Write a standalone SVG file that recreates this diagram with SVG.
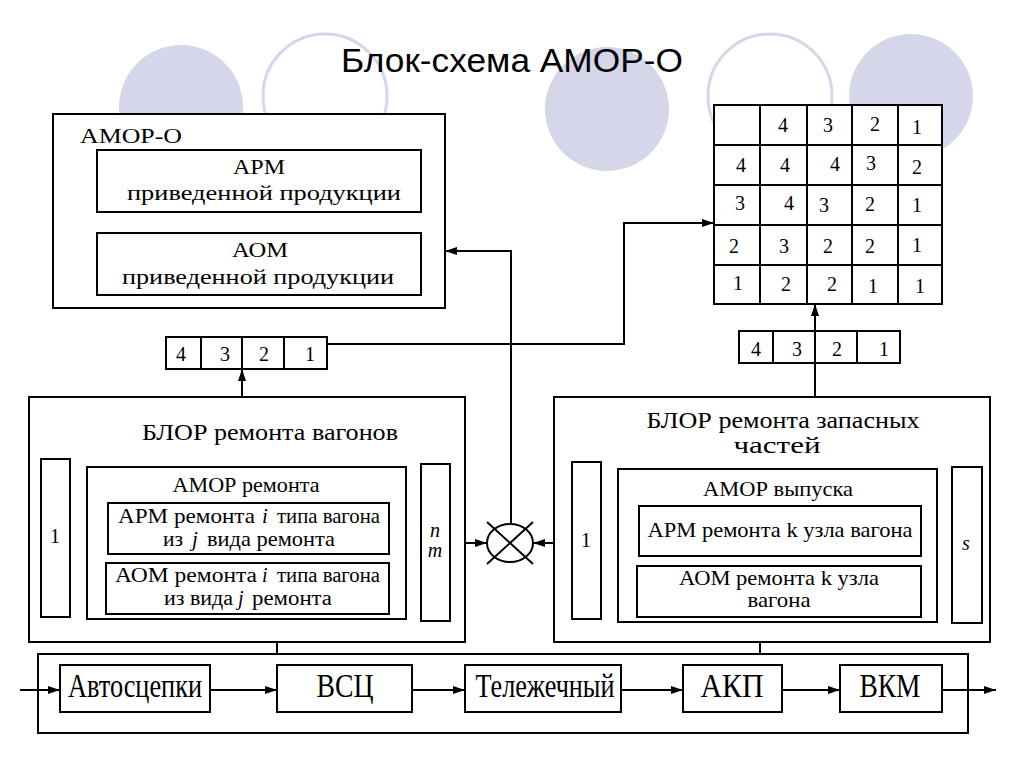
<svg xmlns="http://www.w3.org/2000/svg" width="1024" height="768" viewBox="0 0 1024 768">
<defs>
<marker id="arr" markerWidth="12" markerHeight="8" refX="12" refY="4" orient="auto" markerUnits="userSpaceOnUse">
<path d="M0,0 L12,4 L0,8 z" fill="#000"/>
</marker>
<style>
.box{fill:#fff;stroke:#000;stroke-width:2}
.ln{fill:none;stroke:#000;stroke-width:2}
.arw{fill:none;stroke:#000;stroke-width:2;marker-end:url(#arr)}
.t{fill:#000}
.c{text-anchor:middle}
.dg{font-size:20px;text-anchor:middle;fill:#000}
.fc{fill:#d6d6ea}
.oc{fill:none;stroke:#d6d6ea;stroke-width:3}
.it{font-style:italic}
</style>
</defs>
<rect width="1024" height="768" fill="#fff"/>
<g id="background">
<circle class="fc" cx="181" cy="107" r="62"/>
<circle class="oc" cx="325" cy="96" r="62"/>
<circle class="fc" cx="607" cy="109" r="62"/>
<circle class="oc" cx="770" cy="96" r="62"/>
<circle class="fc" cx="911" cy="96" r="62"/>
</g>
<text id="title" x="512" y="72" font-family="Liberation Sans, Arial, sans-serif" font-size="34" text-anchor="middle" textLength="342" lengthAdjust="spacingAndGlyphs">Блок-схема АМОР-О</text>

<g font-family="Liberation Serif, Times New Roman, serif">
<g id="amor-o">
<rect class="box" x="53" y="114" width="392" height="194"/>
<text class="t" x="80" y="143" font-size="22" textLength="102" lengthAdjust="spacingAndGlyphs">АМОР-О</text>
<rect class="box" x="97" y="150" width="324" height="62"/>
<text class="t c" x="259" y="174" font-size="22" textLength="52" lengthAdjust="spacingAndGlyphs">АРМ</text>
<text class="t c" x="264" y="200" font-size="22" textLength="274" lengthAdjust="spacingAndGlyphs">приведенной продукции</text>
<rect class="box" x="97" y="233" width="324" height="62"/>
<text class="t c" x="260" y="257" font-size="22" textLength="56" lengthAdjust="spacingAndGlyphs">АОМ</text>
<text class="t c" x="258" y="284" font-size="22" textLength="272" lengthAdjust="spacingAndGlyphs">приведенной продукции</text>
</g>

<g id="matrix">
<rect class="box" x="714" y="105" width="228" height="199"/>
<path class="ln" d="M760,105V304M807,105V304M852,105V304M898,105V304M714,145H942M714,185H942M714,225H942M714,265H942"/>
<text class="dg" x="783" y="132">4</text><text class="dg" x="828" y="132">3</text><text class="dg" x="875" y="131">2</text><text class="dg" x="917" y="134">1</text>
<text class="dg" x="741" y="172">4</text><text class="dg" x="785" y="172">4</text><text class="dg" x="835" y="171">4</text><text class="dg" x="871" y="170">3</text><text class="dg" x="917" y="174">2</text>
<text class="dg" x="740" y="210">3</text><text class="dg" x="789" y="210">4</text><text class="dg" x="824" y="212">3</text><text class="dg" x="870" y="211">2</text><text class="dg" x="917" y="212">1</text>
<text class="dg" x="734" y="253">2</text><text class="dg" x="784" y="253">3</text><text class="dg" x="828" y="253">2</text><text class="dg" x="870" y="253">2</text><text class="dg" x="917" y="252">1</text>
<text class="dg" x="738" y="290">1</text><text class="dg" x="786" y="291">2</text><text class="dg" x="832" y="291">2</text><text class="dg" x="873" y="293">1</text><text class="dg" x="920" y="293">1</text>
</g>

<g id="row-left">
<rect class="box" x="166" y="337" width="161" height="32"/>
<path class="ln" d="M201,337V369M242,337V369M284,337V369"/>
<text class="dg" x="181" y="361">4</text><text class="dg" x="225" y="361">3</text><text class="dg" x="264" y="361">2</text><text class="dg" x="310" y="361">1</text>
</g>

<g id="row-right">
<rect class="box" x="739" y="331" width="161" height="32"/>
<path class="ln" d="M773,331V363M815,331V363M857,331V363"/>
<text class="dg" x="756" y="356">4</text><text class="dg" x="797" y="356">3</text><text class="dg" x="837" y="356">2</text><text class="dg" x="884" y="356">1</text>
</g>

<g id="blor-wagons">
<rect class="box" x="29" y="397" width="436" height="245"/>
<text class="t c" x="270" y="440" font-size="24" textLength="256" lengthAdjust="spacingAndGlyphs">БЛОР ремонта вагонов</text>
<rect class="box" x="41" y="459" width="29" height="158"/>
<text class="t c" x="55" y="543" font-size="20">1</text>
<rect class="box" x="87" y="467" width="319" height="152"/>
<text class="t c" x="246" y="492" font-size="21" textLength="147" lengthAdjust="spacingAndGlyphs">АМОР ремонта</text>
<rect class="box" x="108" y="503" width="281" height="51"/>
<text class="t" x="118" y="523" font-size="21" textLength="137" lengthAdjust="spacingAndGlyphs">АРМ ремонта</text>
<text class="t it" x="262" y="523" font-size="21">i</text>
<text class="t" x="277" y="523" font-size="21" textLength="103" lengthAdjust="spacingAndGlyphs">типа вагона</text>
<text class="t" x="163" y="546" font-size="21" textLength="20" lengthAdjust="spacingAndGlyphs">из</text>
<text class="t it" x="192" y="546" font-size="21">j</text>
<text class="t" x="207" y="546" font-size="21" textLength="128" lengthAdjust="spacingAndGlyphs">вида ремонта</text>
<rect class="box" x="106" y="563" width="283" height="51"/>
<text class="t" x="115" y="582" font-size="20" textLength="142" lengthAdjust="spacingAndGlyphs">АОМ ремонта</text>
<text class="t it" x="262" y="582" font-size="20">i</text>
<text class="t" x="277" y="582" font-size="20" textLength="103" lengthAdjust="spacingAndGlyphs">типа вагона</text>
<text class="t" x="164" y="605" font-size="20" textLength="69" lengthAdjust="spacingAndGlyphs">из вида</text>
<text class="t it" x="238" y="605" font-size="20">j</text>
<text class="t" x="252" y="605" font-size="20" textLength="80" lengthAdjust="spacingAndGlyphs">ремонта</text>
<rect class="box" x="421" y="464" width="29" height="157"/>
<text class="t c it" x="435" y="537" font-size="20">n</text>
<text class="t c it" x="435" y="557" font-size="20">m</text>
</g>

<g id="blor-parts">
<rect class="box" x="554" y="397" width="436" height="245"/>
<text class="t c" x="783" y="428" font-size="24" textLength="273" lengthAdjust="spacingAndGlyphs">БЛОР ремонта запасных</text>
<text class="t c" x="777" y="453" font-size="24" textLength="87" lengthAdjust="spacingAndGlyphs">частей</text>
<rect class="box" x="572" y="462" width="29" height="157"/>
<text class="t c" x="586" y="547" font-size="20">1</text>
<rect class="box" x="618" y="469" width="319" height="153"/>
<text class="t c" x="778" y="496" font-size="21" textLength="150" lengthAdjust="spacingAndGlyphs">АМОР выпуска</text>
<rect class="box" x="639" y="506" width="282" height="50"/>
<text class="t c" x="780" y="537" font-size="21" textLength="265" lengthAdjust="spacingAndGlyphs">АРМ ремонта k узла вагона</text>
<rect class="box" x="637" y="566" width="284" height="51"/>
<text class="t c" x="779" y="585" font-size="21" textLength="200" lengthAdjust="spacingAndGlyphs">АОМ ремонта k узла</text>
<text class="t c" x="779" y="607" font-size="21" textLength="63" lengthAdjust="spacingAndGlyphs">вагона</text>
<rect class="box" x="952" y="467" width="30" height="156"/>
<text class="t c it" x="966" y="550" font-size="20">s</text>
</g>

<g id="switch">
<ellipse cx="510" cy="543" rx="23" ry="19" fill="#fff" stroke="#000" stroke-width="2"/>
<path class="ln" d="M487,522L533,564M533,522L487,564"/>
</g>

<g id="line">
<rect class="box" x="38" y="654" width="930" height="79"/>
<g id="n-avto"><rect class="box" x="60" y="665" width="150" height="47"/>
<text class="t c" x="135" y="697" font-size="33" textLength="134" lengthAdjust="spacingAndGlyphs">Автосцепки</text></g>
<g id="n-vsc"><rect class="box" x="277" y="665" width="135" height="47"/>
<text class="t c" x="345" y="697" font-size="33" textLength="57" lengthAdjust="spacingAndGlyphs">ВСЦ</text></g>
<g id="n-tel"><rect class="box" x="465" y="665" width="156" height="47"/>
<text class="t c" x="545" y="697" font-size="33" textLength="139" lengthAdjust="spacingAndGlyphs">Тележечный</text></g>
<g id="n-akp"><rect class="box" x="683" y="665" width="99" height="47"/>
<text class="t c" x="732" y="697" font-size="33" textLength="63" lengthAdjust="spacingAndGlyphs">АКП</text></g>
<g id="n-vkm"><rect class="box" x="840" y="665" width="102" height="47"/>
<text class="t c" x="890" y="697" font-size="33" textLength="61" lengthAdjust="spacingAndGlyphs">ВКМ</text></g>
</g>
</g>

<g id="connectors">
<path class="arw" d="M242,397V369"/>
<path class="arw" d="M327,344H624V223H714"/>
<path class="arw" d="M511,524V251H445"/>
<path class="arw" d="M465,543H487"/>
<path class="arw" d="M554,543H533"/>
<path class="arw" d="M815,397V304"/>
<path class="ln" d="M277,642V654M760,642V654"/>
<path class="arw" d="M20,690H60"/>
<path class="arw" d="M210,690H277"/>
<path class="arw" d="M412,690H465"/>
<path class="arw" d="M621,690H683"/>
<path class="arw" d="M782,690H840"/>
<path class="arw" d="M942,690H996"/>
</g>
</svg>
